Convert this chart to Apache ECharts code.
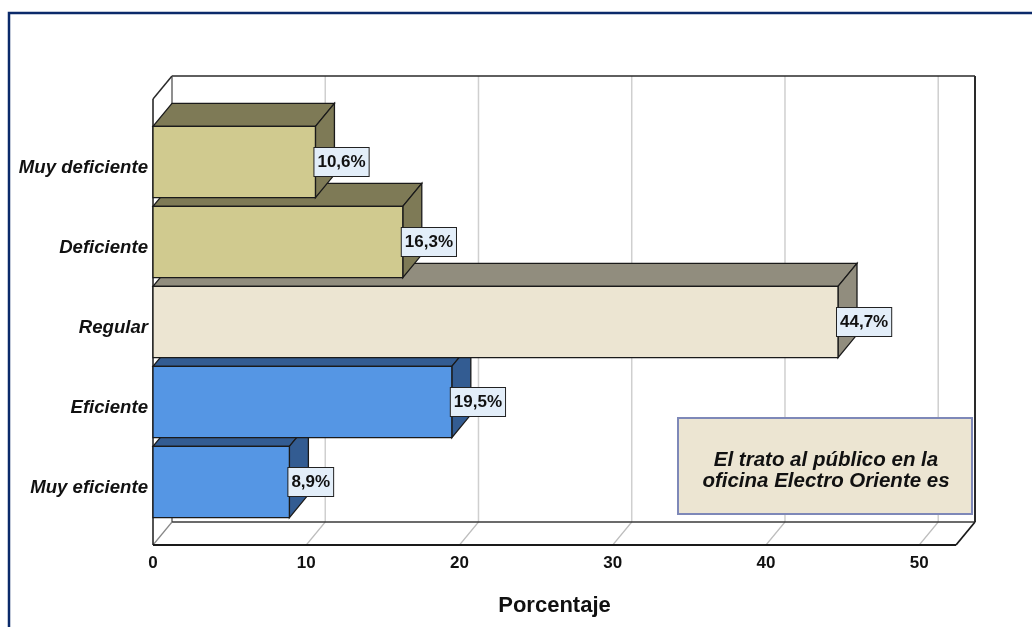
<!DOCTYPE html>
<html>
<head>
<meta charset="utf-8">
<script src="https://cdn.jsdelivr.net/npm/echarts@6/dist/echarts.min.js"></script>
<style>html,body{margin:0;padding:0;background:#fff;}#c{width:1032px;height:627px;}</style>
</head>
<body>
<div id="c"></div>
<script>
// ---- data ----
const categories = ['Muy deficiente', 'Deficiente', 'Regular', 'Eficiente', 'Muy eficiente'];
const values = [10.6, 16.3, 44.7, 19.5, 8.9];
const xTicks = [0, 10, 20, 30, 40, 50];
const axisTitle = 'Porcentaje';
const legendLines = ['El trato al público en la', 'oficina Electro Oriente es'];

// ---- styles ----
const FONT = "Arial, 'Liberation Sans', sans-serif";
const frontColors = ['#D0CA8F', '#D0CA8F', '#ECE5D2', '#5596E4', '#5596E4'];
const depthColors = ['#7E7A56', '#7E7A56', '#918D7E', '#335C92', '#335C92'];
const DX = 19, DY = -23;
const X_MAX = 52.4;

const chart = echarts.init(document.getElementById('c'), null, {renderer: 'canvas'});

function fmt(v) { return v.toFixed(1).replace('.', ',') + '%'; }

function renderItem(params, api) {
  const v = api.value(0), ci = api.value(1);
  const p0 = api.coord([0, ci]);
  const p1 = api.coord([v, ci]);
  const band = api.size([0, 1])[1];
  const h = band * 0.89;
  const top = p0[1] - h / 2, bot = p0[1] + h / 2;
  const x0 = p0[0], x1 = p1[0];
  const z = 100 - ci * 10;
  const stroke = {stroke: '#1a1a1a', lineWidth: 1.3};
  return {
    type: 'group',
    children: [
      {type: 'polygon', z2: z, shape: {points: [[x0, top], [x1, top], [x1 + DX, top + DY], [x0 + DX, top + DY]]},
        style: Object.assign({fill: depthColors[ci]}, stroke)},
      {type: 'polygon', z2: z, shape: {points: [[x1, top], [x1 + DX, top + DY], [x1 + DX, bot + DY], [x1, bot]]},
        style: Object.assign({fill: depthColors[ci]}, stroke)},
      {type: 'rect', z2: z + 1, shape: {x: x0, y: top, width: x1 - x0, height: h},
        style: Object.assign({fill: frontColors[ci]}, stroke)},
      {type: 'text', z2: z + 5, x: x1 - 1, y: p0[1],
        style: {text: fmt(v), font: 'bold 17px ' + FONT, fill: '#111', align: 'left', verticalAlign: 'middle',
          backgroundColor: '#E3EEF9', borderColor: '#222', borderWidth: 1, padding: [5, 3, 4, 3], lineHeight: 19}}
    ]
  };
}

chart.setOption({
  animation: false,
  grid: {left: 153, right: 76, top: 122, bottom: 105, containLabel: false},
  xAxis: {
    type: 'value', min: 0, max: X_MAX, interval: 10,
    axisLine: {show: false}, axisTick: {show: false}, splitLine: {show: false},
    axisLabel: {margin: 33, color: '#111', fontWeight: 'bold', fontSize: 17, fontFamily: FONT,
      formatter: function (v) { return xTicks.indexOf(v) >= 0 ? String(v) : ''; }},
    name: axisTitle, nameLocation: 'middle', nameGap: 73,
    nameTextStyle: {color: '#111', fontWeight: 'bold', fontSize: 22, fontFamily: FONT}
  },
  yAxis: {
    type: 'category', data: categories, inverse: true,
    axisLine: {show: false}, axisTick: {show: false}, splitLine: {show: false},
    axisLabel: {margin: 5, color: '#111', fontWeight: 'bold', fontStyle: 'italic', fontSize: 18.6, fontFamily: FONT,
      verticalAlign: 'top', lineHeight: 12}
  },
  series: [{
    type: 'custom', clip: false, z: 5,
    renderItem: renderItem,
    encode: {x: 0, y: 1},
    data: values.map(function (v, i) { return [v, i]; })
  }]
});

// ---- 3D frame derived from the axes ----
const px = function (v) { return chart.convertToPixel({xAxisIndex: 0}, v); };
const rowTop = chart.convertToPixel({yAxisIndex: 0}, 0);
const rowBot = chart.convertToPixel({yAxisIndex: 0}, categories.length - 1);
const band = rowBot - rowTop === 0 ? 80 : (rowBot - rowTop) / (categories.length - 1);
const gTop = rowTop - band / 2, gBot = rowBot + band / 2;
const Fx0 = px(0), Fx1 = px(X_MAX);
const Ft = gTop + DY, Fb = gBot - DY;
const Bx0 = Fx0 + DX, Bx1 = Fx1 + DX, Bt = Ft + DY, Bb = Fb + DY;

const g = [];
function line(x1, y1, x2, y2, color, w, z) {
  g.push({type: 'line', z: z || 1, shape: {x1: x1, y1: y1, x2: x2, y2: y2}, style: {stroke: color, lineWidth: w}});
}
// outer border
g.push({type: 'rect', z: 0, shape: {x: 9, y: 13, width: 1060, height: 700}, style: {fill: 'none', stroke: '#0B2A6A', lineWidth: 2.5}});
// back wall grid lines and floor lines
xTicks.forEach(function (t) {
  if (t === 0) return;
  line(px(t) + DX, Bt, px(t) + DX, Bb, '#cfcfcf', 1.5, 1);
  line(px(t), Fb, px(t) + DX, Bb, '#bdbdbd', 1.2, 1);
});
// back wall frame
line(Bx0, Bt, Bx1, Bt, '#2a2a2a', 1.6, 2);
line(Bx1, Bt, Bx1, Bb, '#2a2a2a', 2, 2);
line(Bx0, Bt, Bx0, Bb, '#6a6a6a', 1.5, 2);
line(Bx0, Bb, Bx1, Bb, '#3a3a3a', 1.5, 2);
// depth edges
line(Fx0, Ft, Bx0, Bt, '#2a2a2a', 1.5, 2);
line(Fx0, Fb, Bx0, Bb, '#888', 1.2, 2);
line(Fx1, Fb, Bx1, Bb, '#1a1a1a', 1.8, 2);
// front frame
line(Fx0, Ft, Fx0, Fb, '#1a1a1a', 1.5, 2);
line(Fx0, Fb, Fx1, Fb, '#1a1a1a', 2, 2);
// legend box
g.push({type: 'rect', z: 3, shape: {x: 678, y: 418, width: 294, height: 96},
  style: {fill: '#ECE5D2', stroke: '#7E88B8', lineWidth: 2}});
g.push({type: 'text', z: 4, x: 826, y: 471,
  style: {text: legendLines.join('\n'), font: 'italic bold 20.5px ' + FONT, fill: '#111',
    align: 'center', verticalAlign: 'middle', lineHeight: 21}});

chart.setOption({graphic: {elements: g}});
</script>
</body>
</html>
